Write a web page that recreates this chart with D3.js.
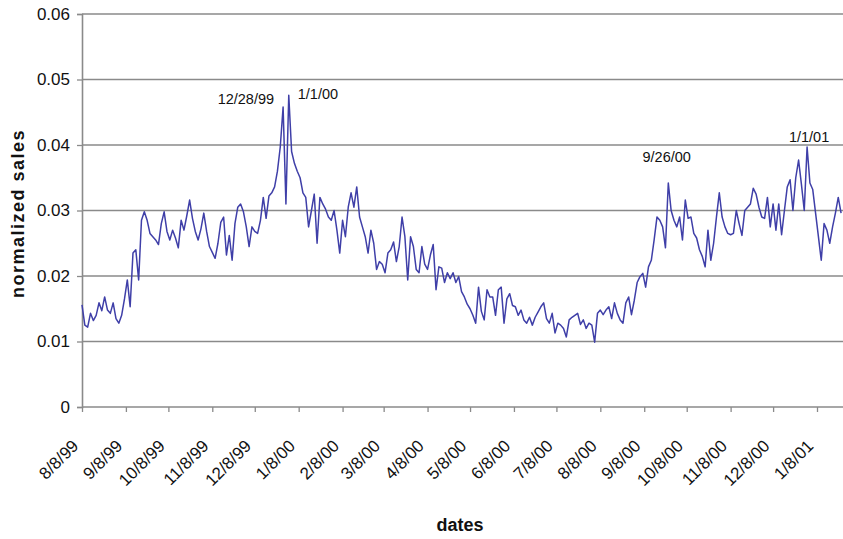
<!DOCTYPE html>
<html>
<head>
<meta charset="utf-8">
<script src="https://cdn.jsdelivr.net/npm/d3@7"></script>
<style>
  html, body { margin: 0; padding: 0; background: #fff; }
  svg { display: block; font-family: "Liberation Sans", Arial, sans-serif; }
</style>
</head>
<body>
<svg id="chart" width="843" height="539"></svg>
<script>
// ---- DATA ----
const seriesStart = "8/8/99";   // first observation
const stepDays = 2;             // spacing between observations (days)
const salesValues = [
  0.0156,0.0125,0.0122,0.0143,0.0132,0.0140,0.0159,0.0147,0.0168,0.0148,
  0.0143,0.0159,0.0135,0.0128,0.0140,0.0165,0.0194,0.0153,0.0235,0.0240,
  0.0194,0.0285,0.0298,0.0285,0.0265,0.0260,0.0255,0.0248,0.0280,0.0298,
  0.0268,0.0255,0.0270,0.0258,0.0243,0.0285,0.0270,0.0292,0.0316,0.0288,
  0.0268,0.0255,0.0272,0.0296,0.0268,0.0245,0.0236,0.0227,0.0250,0.0282,
  0.0290,0.0232,0.0262,0.0224,0.0280,0.0305,0.0310,0.0298,0.0275,0.0245,
  0.0275,0.0268,0.0265,0.0285,0.0320,0.0288,0.0322,0.0327,0.0336,0.0360,
  0.0397,0.0458,0.0310,0.0476,0.0390,0.0372,0.0360,0.0350,0.0327,0.0320,
  0.0275,0.0300,0.0325,0.0250,0.0320,0.0310,0.0302,0.0290,0.0285,0.0300,
  0.0270,0.0235,0.0285,0.0260,0.0305,0.0327,0.0305,0.0336,0.0290,0.0275,
  0.0260,0.0235,0.0270,0.0250,0.0210,0.0222,0.0218,0.0205,0.0235,0.0240,
  0.0252,0.0222,0.0245,0.0290,0.0260,0.0194,0.0260,0.0245,0.0210,0.0205,
  0.0245,0.0218,0.0210,0.0232,0.0248,0.0179,0.0214,0.0212,0.0190,0.0205,
  0.0196,0.0205,0.0190,0.0199,0.0176,0.0168,0.0157,0.0150,0.0140,0.0128,
  0.0183,0.0146,0.0133,0.0179,0.0168,0.0168,0.0140,0.0179,0.0183,0.0128,
  0.0165,0.0173,0.0155,0.0153,0.0140,0.0148,0.0133,0.0128,0.0137,0.0125,
  0.0137,0.0145,0.0153,0.0159,0.0135,0.0128,0.0143,0.0113,0.0128,0.0125,
  0.0120,0.0107,0.0133,0.0137,0.0140,0.0143,0.0126,0.0133,0.0120,0.0128,
  0.0125,0.0099,0.0143,0.0148,0.0141,0.0148,0.0153,0.0135,0.0159,0.0143,
  0.0133,0.0128,0.0159,0.0168,0.0141,0.0163,0.0190,0.0199,0.0204,0.0183,
  0.0214,0.0224,0.0255,0.0290,0.0285,0.0275,0.0243,0.0342,0.0300,0.0285,
  0.0275,0.0290,0.0255,0.0316,0.0288,0.0290,0.0265,0.0258,0.0240,0.0230,
  0.0214,0.0270,0.0224,0.0250,0.0290,0.0327,0.0290,0.0275,0.0265,0.0263,
  0.0265,0.0300,0.0280,0.0262,0.0300,0.0305,0.0310,0.0334,0.0325,0.0305,
  0.0290,0.0288,0.0320,0.0275,0.0310,0.0270,0.0310,0.0263,0.0300,0.0336,
  0.0347,0.0300,0.0350,0.0377,0.0340,0.0300,0.0397,0.0342,0.0332,0.0296,
  0.0260,0.0224,0.0280,0.0270,0.0250,0.0275,0.0296,0.0320,0.0296
];
const xTickLabels = ["8/8/99","9/8/99","10/8/99","11/8/99","12/8/99","1/8/00","2/8/00",
  "3/8/00","4/8/00","5/8/00","6/8/00","7/8/00","8/8/00","9/8/00","10/8/00","11/8/00",
  "12/8/00","1/8/01"];
const lastTick = "2/8/01";      // unlabeled tick at right edge
const yTickValues = [0, 0.01, 0.02, 0.03, 0.04, 0.05, 0.06];
const yTickLabels = ["0","0.01","0.02","0.03","0.04","0.05","0.06"];
const annotationLabels = ["12/28/99","1/1/00","9/26/00","1/1/01"];
const yTitle = "normalized sales";
const xTitle = "dates";

// ---- CHART ----
const parse = d3.utcParse("%m/%d/%y");
const start = parse(seriesStart);
const data = salesValues.map((v, i) => ({ date: d3.utcDay.offset(start, i * stepDays), value: v }));
const tickDates = xTickLabels.map(parse);

const svg = d3.select("#chart");
const W = 843, plotLeft = 82, plotTop = 14, plotBottom = 407;

const x = d3.scaleUtc()
  .domain([tickDates[0], tickDates[tickDates.length - 1]])
  .range([plotLeft, 817]);
const y = d3.scaleLinear().domain([0, 0.06]).range([plotBottom, plotTop]);

// gridlines
svg.append("g").selectAll("line")
  .data(yTickValues.slice(1))
  .join("line")
  .attr("x1", plotLeft).attr("x2", W)
  .attr("y1", d => y(d)).attr("y2", d => y(d))
  .attr("stroke", "#8a8a8a").attr("stroke-width", 1.6);

// y axis
const yAxis = d3.axisLeft(y).tickValues(yTickValues)
  .tickFormat((d, i) => yTickLabels[i]).tickSize(5).tickPadding(7);
const gy = svg.append("g").attr("transform", `translate(${plotLeft},0)`).call(yAxis);
gy.select(".domain").attr("stroke", "#8a8a8a").attr("stroke-width", 1.6);
gy.selectAll(".tick line").attr("stroke", "#8a8a8a").attr("stroke-width", 1.3);
gy.selectAll(".tick text").attr("font-size", 17).attr("fill", "#111")
  .attr("font-family", "'Liberation Sans', Arial, sans-serif");

// x axis
const allTicks = tickDates.concat([parse(lastTick)]);
const xAxis = d3.axisBottom(x).tickValues(allTicks)
  .tickFormat((d, i) => i < xTickLabels.length ? xTickLabels[i] : "").tickSize(5);
const gx = svg.append("g").attr("transform", `translate(0,${plotBottom})`).call(xAxis);
gx.select(".domain").attr("stroke", "#8a8a8a").attr("stroke-width", 1.6)
  .attr("d", `M${plotLeft},0H${W}`);
gx.selectAll(".tick line").attr("stroke", "#8a8a8a").attr("stroke-width", 1.3);
gx.selectAll(".tick text")
  .attr("font-size", 17).attr("fill", "#111")
  .attr("font-family", "'Liberation Sans', Arial, sans-serif")
  .attr("text-anchor", "end")
  .attr("dy", 0).attr("y", 0)
  .attr("transform", "translate(-3,40) rotate(-45)");

// line
const line = d3.line().x(d => x(d.date)).y(d => y(d.value));
svg.append("path").datum(data)
  .attr("d", line)
  .attr("fill", "none")
  .attr("stroke", "#3f3fa8")
  .attr("stroke-width", 1.5)
  .attr("stroke-linejoin", "round");

// annotations
const annot = annotationLabels.map(s => {
  const dt = parse(s);
  const pt = data.reduce((a, b) => Math.abs(b.date - dt) < Math.abs(a.date - dt) ? b : a);
  return { label: s, date: dt, value: pt.value };
});
const annStyle = [
  { dx: -9, dy: -3, anchor: "end" },
  { dx: 9, dy: 4, anchor: "start" },
  { dx: -3, dy: -21, anchor: "middle" },
  { dx: 2, dy: -5, anchor: "middle" }
];
svg.append("g").selectAll("text")
  .data(annot)
  .join("text")
  .attr("x", (d, i) => x(d.date) + annStyle[i].dx)
  .attr("y", (d, i) => y(d.value) + annStyle[i].dy)
  .attr("text-anchor", (d, i) => annStyle[i].anchor)
  .attr("font-size", 14.5)
  .attr("fill", "#111")
  .text(d => d.label);

// axis titles
svg.append("text")
  .attr("transform", `translate(24,${(plotTop + plotBottom) / 2 + 3}) rotate(-90)`)
  .attr("text-anchor", "middle")
  .attr("font-size", 18).attr("font-weight", "bold").attr("fill", "#111")
  .attr("letter-spacing", 1.5)
  .text(yTitle);
svg.append("text")
  .attr("x", 460).attr("y", 531)
  .attr("text-anchor", "middle")
  .attr("font-size", 18).attr("font-weight", "bold").attr("fill", "#111")
  .text(xTitle);
</script>
</body>
</html>
